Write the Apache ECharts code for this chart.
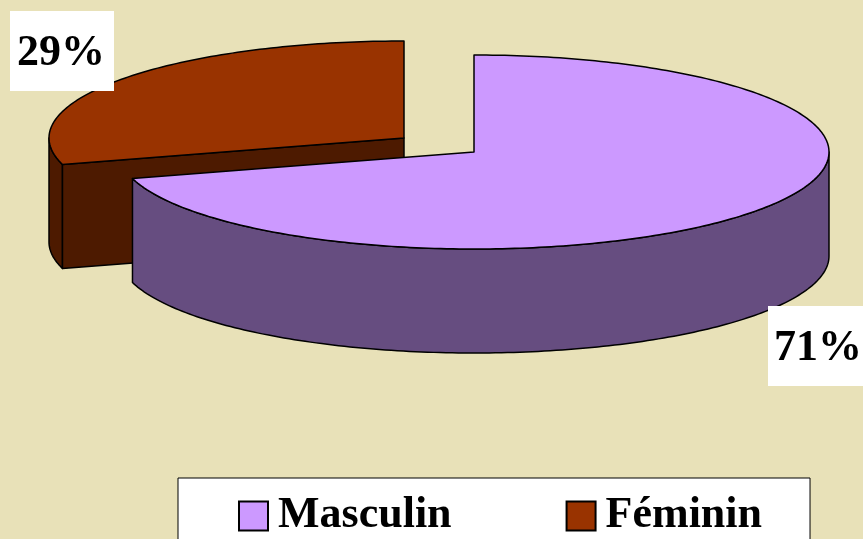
<!DOCTYPE html>
<html>
<head>
<meta charset="utf-8">
<title>Répartition selon le sexe</title>
<script src="https://cdn.jsdelivr.net/npm/echarts@6/dist/echarts.min.js"></script>
<style>
  html, body { margin: 0; padding: 0; background: #e8e1b8; overflow: hidden; }
  #chart { width: 863px; height: 539px; }
</style>
</head>
<body>
<div id="chart"></div>
<script>
// donnees
const categories = ['Masculin', 'Féminin']
const shares = [70.6, 29.4]

const topColors = ['#cc99ff', '#993300']
const sideColors = ['#664d80', '#4d1a00']
const serifFont = '"Liberation Serif", "Times New Roman", serif'

// centre de chaque part (la part feminine est detachee), ellipse et epaisseur
const centers = [[474, 152], [404, 138]]
const rx = 355
const ry = 97
const depth = 104
const labelBoxes = [[768, 306, 95, 80], [10, 11, 104, 80]]
const labelCenters = [[818, 349], [61, 54]]

const total = shares.reduce((a, b) => a + b, 0)

const pointAt = (c, deg, dy = 0) => {
  const a = (deg * Math.PI) / 180
  return [c[0] + rx * Math.sin(a), c[1] - ry * Math.cos(a) + dy]
}
// echantillonne l'arc d'ellipse de a0 a a1 (degres depuis midi, sens horaire)
const arc = (c, a0, a1, dy = 0) => {
  const pts = []
  const steps = Math.max(2, Math.ceil(Math.abs(a1 - a0)))
  for (let i = 0; i <= steps; i++) {
    pts.push(pointAt(c, a0 + ((a1 - a0) * i) / steps, dy))
  }
  return pts
}
const face = (points, fill) => ({
  type: 'polygon',
  shape: { points },
  style: { fill, stroke: '#000', lineWidth: 1.5, lineJoin: 'round' }
})

const renderSlice = (idx) => (params, api) => {
  const before = shares.slice(0, idx).reduce((a, b) => a + b, 0)
  const a0 = (before / total) * 360
  const a1 = a0 + (api.value(0) / total) * 360
  const c = centers[idx]
  const children = []

  // paroi exterieure : seulement la partie tournee vers l'avant (90 a 270 degres)
  const from = Math.max(a0, 90)
  const to = Math.min(a1, 270)
  if (to > from) {
    children.push(face(arc(c, from, to).concat(arc(c, to, from, depth)), sideColors[idx]))
  }
  // face de coupe visible de la part feminine
  if (idx === 1) {
    const p = pointAt(c, a0)
    children.push(face([c, p, [p[0], p[1] + depth], [c[0], c[1] + depth]], sideColors[idx]))
  }
  // dessus
  children.push(face([c].concat(arc(c, a0, a1)), topColors[idx]))

  // etiquette du pourcentage
  const box = labelBoxes[idx]
  children.push({
    type: 'rect',
    shape: { x: box[0], y: box[1], width: box[2], height: box[3] },
    style: { fill: '#fff' }
  })
  children.push({
    type: 'text',
    x: labelCenters[idx][0],
    y: labelCenters[idx][1],
    style: {
      text: Math.round((api.value(0) / total) * 100) + '%',
      fill: '#000',
      font: 'bold 44px ' + serifFont,
      align: 'center',
      verticalAlign: 'middle'
    }
  })
  return { type: 'group', children }
}

const myChart = echarts.init(document.getElementById('chart'))
const option = {
  animation: false,
  backgroundColor: '#e8e1b8',
  legend: {
    left: 178,
    top: 478,
    orient: 'horizontal',
    data: categories,
    icon: 'rect',
    itemWidth: 29,
    itemHeight: 29,
    itemGap: 114,
    padding: [16, 48, 20, 60],
    backgroundColor: '#fff',
    borderColor: '#000',
    borderWidth: 1,
    borderRadius: 0,
    textStyle: {
      color: '#000',
      fontFamily: serifFont,
      fontWeight: 'bold',
      fontSize: 44,
      padding: [0, 0, 0, 5]
    }
  },
  // la part feminine passe derriere la part masculine
  series: [1, 0].map((idx) => ({
    name: categories[idx],
    type: 'custom',
    coordinateSystem: 'none',
    silent: true,
    itemStyle: { color: topColors[idx], borderColor: '#000', borderWidth: 1 },
    data: [shares[idx]],
    renderItem: renderSlice(idx)
  }))
}
myChart.setOption(option)
</script>
</body>
</html>
